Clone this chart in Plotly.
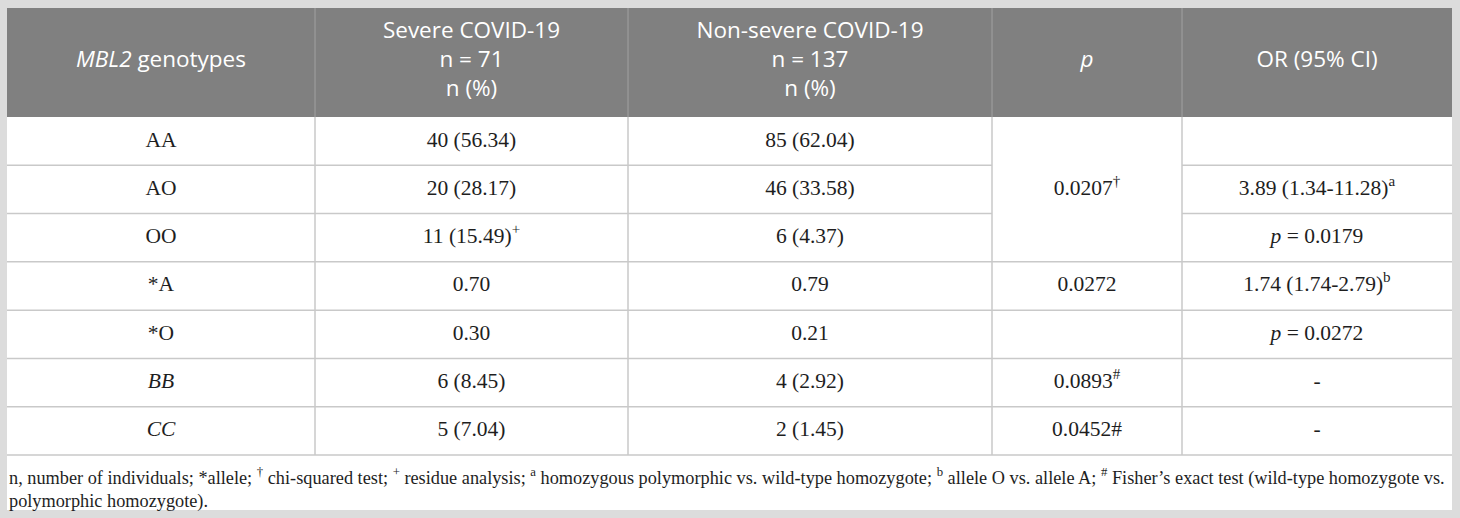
import plotly.graph_objects as go

# ---- table content ----
headers = [
    ["<i>MBL2</i> genotypes"],
    ["Severe COVID-19", "n = 71", "n (%)"],
    ["Non-severe COVID-19", "n = 137", "n (%)"],
    ["<i>p</i>"],
    ["OR (95% CI)"],
]
genotypes = ["AA", "AO", "OO", "*A", "*O", "<i>BB</i>", "<i>CC</i>"]
severe = ["40 (56.34)", "20 (28.17)", "11 (15.49)<sup>+</sup>", "0.70", "0.30", "6 (8.45)", "5 (7.04)"]
non_severe = ["85 (62.04)", "46 (33.58)", "6 (4.37)", "0.79", "0.21", "4 (2.92)", "2 (1.45)"]
# p column has one merged cell over the first three genotype rows
p_values = ["0.0207<sup>†</sup>", "0.0272", "", "0.0893<sup>#</sup>", "0.0452#"]
p_rowspan = [3, 1, 1, 1, 1]
odds_ratio = ["", "3.89 (1.34-11.28)<sup>a</sup>", "<i>p</i> = 0.0179",
              "1.74 (1.74-2.79)<sup>b</sup>", "<i>p</i> = 0.0272", "-", "-"]
footnote = (
    "n, number of individuals; *allele; <sup>†</sup> chi-squared test; <sup>+</sup> residue analysis; "
    "<sup>a</sup> homozygous polymorphic vs. wild-type homozygote; <sup>b</sup> allele O vs. allele A; "
    "<sup>#</sup> Fisher’s exact test (wild-type homozygote vs.<br>polymorphic homozygote)."
)

# ---- geometry (pixels) ----
W, H = 1460, 518
col_edges = [7, 315, 628, 992, 1182, 1452]
header_top, header_bottom = 8, 117
body_bottom = 455
footer_bottom = 510
n_rows = len(genotypes)
row_h = (body_bottom - header_bottom) / n_rows
row_edges = [header_bottom + i * row_h for i in range(n_rows + 1)]
head_line_gap = 29

FRAME = "#dcdcdc"
HEAD_FILL = "#808080"
HEAD_LINE = "#9c9c9c"
GRID = "#c9c9c9"
TEXT = "#1e1e1e"
SERIF = "Liberation Serif, Times New Roman, serif"
SANS = "Open Sans, Noto Sans, sans-serif"


def col_center(c):
    return (col_edges[c] + col_edges[c + 1]) / 2


def row_center(r, span=1):
    return (row_edges[r] + row_edges[r + span]) / 2


shapes = [
    dict(type="rect", x0=col_edges[0], x1=col_edges[-1], y0=header_top, y1=footer_bottom,
         fillcolor="white", line_width=0, layer="below"),
    dict(type="rect", x0=col_edges[0], x1=col_edges[-1], y0=header_top, y1=header_bottom,
         fillcolor=HEAD_FILL, line_width=0, layer="below"),
]
for xe in col_edges[1:-1]:
    shapes.append(dict(type="line", x0=xe, x1=xe, y0=header_top, y1=header_bottom,
                       line=dict(color=HEAD_LINE, width=1.2)))
    shapes.append(dict(type="line", x0=xe, x1=xe, y0=header_bottom, y1=body_bottom,
                       line=dict(color=GRID, width=1.5)))

# horizontal rules; skip the p column inside its merged cells
merged_inner = set()
r = 0
for span in p_rowspan:
    for k in range(1, span):
        merged_inner.add(r + k)
    r += span
for i in range(1, n_rows + 1):
    y = row_edges[i]
    if i in merged_inner:
        segs = [(col_edges[0], col_edges[3]), (col_edges[4], col_edges[5])]
    else:
        segs = [(col_edges[0], col_edges[5])]
    for x0, x1 in segs:
        shapes.append(dict(type="line", x0=x0, x1=x1, y0=y, y1=y,
                           line=dict(color=GRID, width=1.5)))

# ---- body text ----
bx, by, bt = [], [], []
for c, column in enumerate([genotypes, severe, non_severe]):
    for r, txt in enumerate(column):
        bx.append(col_center(c))
        by.append(row_center(r))
        bt.append(txt)
r = 0
for txt, span in zip(p_values, p_rowspan):
    bx.append(col_center(3))
    by.append(row_center(r, span))
    bt.append(txt)
    r += span
for r, txt in enumerate(odds_ratio):
    bx.append(col_center(4))
    by.append(row_center(r))
    bt.append(txt)

# ---- header text, one line at a time ----
hx, hy, ht = [], [], []
head_mid = (header_top + header_bottom) / 2 - 1
for c, lines in enumerate(headers):
    n = len(lines)
    for k, txt in enumerate(lines):
        hx.append(col_center(c))
        hy.append(head_mid + (k - (n - 1) / 2) * head_line_gap)
        ht.append(txt)

fig = go.Figure()
fig.add_trace(go.Scatter(
    x=bx, y=by, text=bt, mode="text", textposition="middle center",
    textfont=dict(family=SERIF, size=21.5, color=TEXT), hoverinfo="skip", showlegend=False,
))
fig.add_trace(go.Scatter(
    x=hx, y=hy, text=ht, mode="text", textposition="middle center",
    textfont=dict(family=SANS, size=22.5, color="white"), hoverinfo="skip", showlegend=False,
))

fig.add_annotation(
    x=col_edges[0], y=(body_bottom + footer_bottom) / 2 + 6, xref="x", yref="y",
    text=footnote, showarrow=False, xanchor="left", yanchor="middle", align="left",
    font=dict(family=SERIF, size=18.3, color=TEXT),
)

fig.update_layout(
    width=W, height=H,
    margin=dict(l=0, r=0, t=0, b=0),
    paper_bgcolor=FRAME, plot_bgcolor=FRAME,
    shapes=shapes,
    xaxis=dict(range=[0, W], visible=False, fixedrange=True),
    yaxis=dict(range=[H, 0], visible=False, fixedrange=True),
)

fig.write_html(
    "out.html",
    config={"displayModeBar": False},
    post_script="document.body.style.margin='0';document.body.style.background='#dcdcdc';",
)
